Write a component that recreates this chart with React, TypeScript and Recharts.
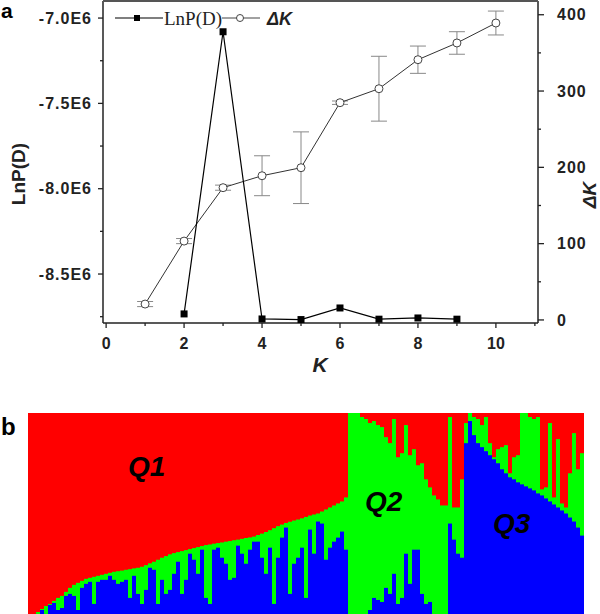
import { ComposedChart, Line, XAxis, YAxis, ErrorBar, BarChart, Bar } from "recharts";

// panel a: Evanno plot
const K_VALUES = [1, 2, 3, 4, 5, 6, 7, 8, 9, 10];
const LNPD = [-8.676e6, -8.307e6, -7.994e6, -7.924e6, -7.877e6, -7.496e6, -7.414e6, -7.244e6, -7.146e6, -7.029e6];
const LNPD_ERR = [0.015e6, 0.015e6, 0.015e6, 0.117e6, 0.21e6, 0.01e6, 0.19e6, 0.08e6, 0.066e6, 0.07e6];
const DELTA_K = [null, 7.9, 377.7, 1.3, 0.5, 15.7, 1.0, 2.6, 1.0, null];

const LEFT_TICKS = [-8.75e6, -8.5e6, -8.25e6, -8.0e6, -7.75e6, -7.5e6, -7.25e6, -7.0e6];
const RIGHT_TICKS = [0, 50, 100, 150, 200, 250, 300, 350, 400];
const X_TICKS = [0, 1, 2, 3, 4, 5, 6, 7, 8, 9, 10, 11];

// panel b: membership (Q1 red from top, Q3 blue from bottom, Q2 green in between)
const Q_RED = [
  1.0, 1.0, 0.99, 0.975, 0.96, 0.95, 0.935, 0.92, 0.91, 0.89,
  0.87, 0.855, 0.845, 0.835, 0.825, 0.82, 0.815, 0.81, 0.805, 0.8,
  0.795, 0.79, 0.787, 0.784, 0.78, 0.777, 0.773, 0.77, 0.765, 0.757,
  0.748, 0.74, 0.73, 0.72, 0.712, 0.703, 0.697, 0.692, 0.687, 0.682,
  0.677, 0.672, 0.667, 0.662, 0.657, 0.654, 0.65, 0.647, 0.644, 0.64,
  0.637, 0.633, 0.63, 0.626, 0.622, 0.619, 0.615, 0.607, 0.6, 0.592,
  0.583, 0.573, 0.563, 0.555, 0.547, 0.541, 0.535, 0.53, 0.524, 0.517,
  0.51, 0.505, 0.5, 0.49, 0.48, 0.47, 0.46, 0.45, 0.44, 0.42,
  0, 0, 0, 0.02, 0.03, 0.05, 0.04, 0.06, 0.07, 0.12,
  0.15, 0.03, 0.22, 0.2, 0.06, 0.21, 0.18, 0.26, 0.25, 0.33,
  0.37, 0.41, 0.43, 0.46, 0.46, 0.02, 0.47, 0.47, 0.33, 0.05,
  0, 0.02, 0.03, 0.06, 0.02, 0.15, 0.22, 0.18, 0.17, 0.16,
  0.3, 0.22, 0.21, 0, 0, 0.02, 0.03, 0.02, 0.38, 0.37,
  0.05, 0.42, 0.13, 0.45, 0.47, 0.3, 0.1, 0.28, 0.2,
];
const Q_BLUE = [
  0, 0, 0, 0.02, 0, 0.045, 0.055, 0.02, 0.03, 0.09,
  0.1, 0.09, 0.02, 0.13, 0.15, 0.16, 0.05, 0.16, 0.17, 0.17,
  0.19, 0.17, 0.15, 0.16, 0.17, 0.08, 0.19, 0.1, 0.05, 0.12,
  0.23, 0.22, 0.05, 0.17, 0.1, 0.12, 0.2, 0.26, 0.1, 0.17,
  0.3, 0.27, 0.2, 0.32, 0.08, 0.05, 0.32, 0.33, 0.28, 0.25,
  0.17, 0.18, 0.34, 0.3, 0.25, 0.32, 0.36, 0.36, 0.28, 0.2,
  0.33, 0.05, 0.28, 0.38, 0.43, 0.1, 0.25, 0.28, 0.33, 0.08,
  0.42, 0.3, 0.46, 0.45, 0.27, 0.33, 0.36, 0.38, 0.41, 0.32,
  0, 0, 0, 0, 0, 0.02, 0.08, 0.07, 0.06, 0.13,
  0.1, 0.2, 0.05, 0.08, 0.3, 0.15, 0.32, 0.32, 0.1, 0.05,
  0.06, 0, 0, 0, 0, 0.45, 0.37, 0.3, 0.28, 0.85,
  0.96, 0.89, 0.85, 0.83, 0.81, 0.79, 0.77, 0.75, 0.72, 0.7,
  0.68, 0.67, 0.655, 0.645, 0.635, 0.625, 0.615, 0.6, 0.59, 0.575,
  0.56, 0.545, 0.53, 0.515, 0.5, 0.48, 0.46, 0.43, 0.39,
];

const SANS = "'Liberation Sans', Arial, sans-serif";
const SERIF = "'Liberation Serif', 'Times New Roman', serif";
const AXIS = "#222";

const aData = K_VALUES.map((k, i) => ({ k, lnpd: LNPD[i], err: LNPD_ERR[i], dk: DELTA_K[i] }));
const bData = Q_RED.map((r, i) => ({ id: i, red: r, blue: Q_BLUE[i] }));

function LeftTick({ x, y, payload }: any) {
  const v = payload.value;
  const major = Math.abs(v % 5e5) < 1;
  return (
    <g>
      <line x1={x} x2={x - (major ? 5 : 3)} y1={y} y2={y} stroke={AXIS} strokeWidth={1.3} />
      {major && (
        <text x={x - 11} y={y} dy="0.36em" textAnchor="end" fontFamily={SANS} fontWeight="bold" fontSize={16} letterSpacing={1} fill={AXIS}>
          {(v / 1e6).toFixed(1) + "E6"}
        </text>
      )}
    </g>
  );
}

function RightTick({ x, y, payload }: any) {
  const v = payload.value;
  const major = v % 100 === 0;
  return (
    <g>
      <line x1={x} x2={x + (major ? 6 : 3)} y1={y} y2={y} stroke={AXIS} strokeWidth={1.3} />
      {major && (
        <text x={x + 19} y={y} dy="0.36em" textAnchor="start" fontFamily={SANS} fontWeight="bold" fontSize={16} letterSpacing={1} fill={AXIS}>
          {v}
        </text>
      )}
    </g>
  );
}

function BottomTick({ x, y, payload }: any) {
  const v = payload.value;
  const major = v % 2 === 0 && v <= 10;
  return (
    <g>
      <line x1={x} x2={x} y1={y} y2={y + (major ? 5 : 3)} stroke={AXIS} strokeWidth={1.3} />
      {major && (
        <text x={x} y={y + 25.5} textAnchor="middle" fontFamily={SANS} fontWeight="bold" fontSize={16} fill={AXIS}>
          {v}
        </text>
      )}
    </g>
  );
}

function CircleDot({ cx, cy, index }: any) {
  if (cx == null || cy == null) return <g key={index} />;
  return <circle key={index} cx={cx} cy={cy} r={4} fill="#fff" stroke="#444" strokeWidth={1} />;
}

function SquareDot({ cx, cy, index, value }: any) {
  if (cx == null || cy == null || value == null) return <g key={index} />;
  return <rect key={index} x={cx - 3.5} y={cy - 3.5} width={7} height={7} fill="#000" />;
}

export default function App() {
  return (
    <div style={{ position: "absolute", left: 0, top: 0, width: 600, height: 614, background: "#fff", overflow: "hidden" }}>
      <div style={{ position: "absolute", left: 0, top: 0 }}>
        <ComposedChart width={600} height={380} data={aData} margin={{ top: 1, right: 2, bottom: 7, left: 43 }}>
          <XAxis
            dataKey="k"
            type="number"
            domain={[-0.08, 11.08]}
            ticks={X_TICKS}
            interval={0}
            allowDataOverflow
            height={50}
            tickSize={0}
            tickMargin={0}
            tickLine={false}
            axisLine={{ stroke: AXIS, strokeWidth: 1.5 }}
            tick={<BottomTick />}
          />
          <YAxis
            yAxisId="left"
            type="number"
            domain={[-8.787e6, -6.9e6]}
            ticks={LEFT_TICKS}
            interval={0}
            allowDataOverflow
            width={60}
            tickSize={0}
            tickMargin={0}
            tickLine={false}
            axisLine={{ stroke: AXIS, strokeWidth: 1.5 }}
            tick={<LeftTick />}
          />
          <YAxis
            yAxisId="right"
            orientation="right"
            type="number"
            domain={[-4, 418]}
            ticks={RIGHT_TICKS}
            interval={0}
            allowDataOverflow
            width={60}
            tickSize={0}
            tickMargin={0}
            tickLine={false}
            axisLine={{ stroke: AXIS, strokeWidth: 1.5 }}
            tick={<RightTick />}
          />
          <Line yAxisId="left" dataKey="lnpd" stroke="#333" strokeWidth={1} dot={CircleDot} isAnimationActive={false}>
            <ErrorBar dataKey="err" width={8} stroke="#888" strokeWidth={1} direction="y" />
          </Line>
          <Line yAxisId="right" dataKey="dk" stroke="#000" strokeWidth={1.2} dot={SquareDot} isAnimationActive={false} />
        </ComposedChart>
      </div>

      <div style={{ position: "absolute", left: 28, top: 413, width: 556, height: 201, background: "#00ff00" }}>
        <BarChart width={556} height={201} data={bData} margin={{ top: 0, right: 0, bottom: 0, left: 0 }} barCategoryGap={0} barGap={0}>
          <XAxis xAxisId="b" dataKey="id" hide />
          <XAxis xAxisId="r" dataKey="id" hide />
          <YAxis yAxisId="b" domain={[0, 1]} hide />
          <YAxis yAxisId="r" domain={[0, 1]} reversed hide />
          <Bar xAxisId="b" yAxisId="b" dataKey="blue" fill="#0000ff" isAnimationActive={false} />
          <Bar xAxisId="r" yAxisId="r" dataKey="red" fill="#ff0000" isAnimationActive={false} />
        </BarChart>
      </div>

      <svg width={600} height={614} style={{ position: "absolute", left: 0, top: 0, pointerEvents: "none" }}>
        <line x1={103} x2={538} y1={1} y2={1} stroke="#555" strokeWidth={2} />
        <text x={1} y={18} fontFamily={SANS} fontWeight="bold" fontSize={21} fill="#000">a</text>

        {/* legend */}
        <line x1={115} x2={163} y1={18} y2={18} stroke="#000" strokeWidth={1.2} />
        <rect x={134} y={15} width={6} height={6} fill="#000" />
        <text x={164} y={25} fontFamily={SERIF} fontSize={19} fill="#222">LnP(D)</text>
        <line x1={222} x2={260} y1={18} y2={18} stroke="#444" strokeWidth={1} />
        <circle cx={240} cy={18} r={3.5} fill="#fff" stroke="#444" strokeWidth={1} />
        <text x={267} y={25} fontFamily={SANS} fontWeight="bold" fontStyle="italic" fontSize={18} fill="#222">ΔK</text>

        <text transform="translate(18,174) rotate(-90)" textAnchor="middle" dominantBaseline="central" fontFamily={SANS} fontWeight="bold" fontSize={19} fill="#222">LnP(D)</text>
        <text transform="translate(589,195) rotate(-90)" textAnchor="middle" dominantBaseline="central" fontFamily={SANS} fontWeight="bold" fontStyle="italic" fontSize={19} fill="#222">ΔK</text>
        <text x={320} y={372} textAnchor="middle" fontFamily={SANS} fontWeight="bold" fontStyle="italic" fontSize={21} fill="#222">K</text>

        <text x={1} y={435} fontFamily={SANS} fontWeight="bold" fontSize={24} fill="#000">b</text>
        <text x={128} y={476} fontFamily={SANS} fontWeight="bold" fontStyle="italic" fontSize={28} fill="#000">Q1</text>
        <text x={365} y={511} fontFamily={SANS} fontWeight="bold" fontStyle="italic" fontSize={28} fill="#000">Q2</text>
        <text x={493} y={533} fontFamily={SANS} fontWeight="bold" fontStyle="italic" fontSize={28} fill="#000">Q3</text>
      </svg>
    </div>
  );
}
